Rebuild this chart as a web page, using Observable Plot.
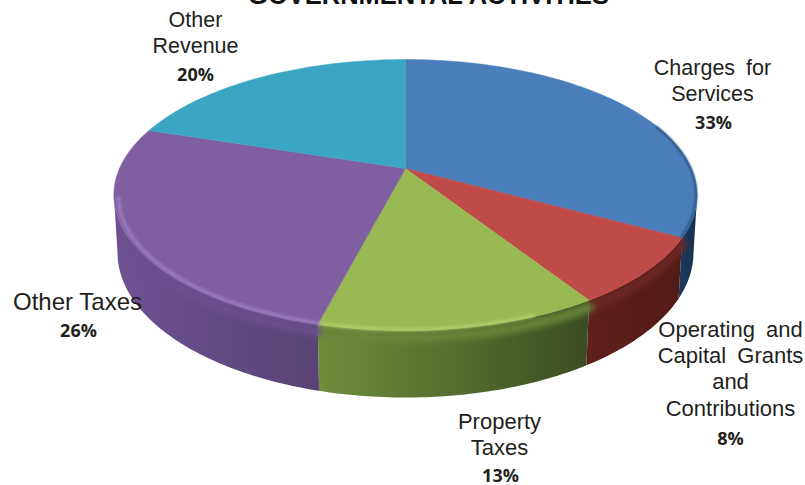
<!DOCTYPE html>
<html>
<head>
<meta charset="utf-8">
<script src="https://cdn.jsdelivr.net/npm/d3@7"></script>
<script src="https://cdn.jsdelivr.net/npm/@observablehq/plot@0.6"></script>
<style>
  html, body { margin: 0; padding: 0; background: #fff; }
  svg { display: block; }
</style>
</head>
<body>
<div id="chart"></div>
<script>
// Revenue shares, clockwise from twelve o'clock
const categories = ["Charges for Services", "Operating and Capital Grants and Contributions", "Property Taxes", "Other Taxes", "Other Revenue"];
const shares = [33, 8, 13, 26, 20];
const title = "GOVERNMENTAL ACTIVITIES";
const labelLines = [["Charges for", "Services"], ["Operating and", "Capital Grants", "and", "Contributions"], ["Property", "Taxes"], ["Other Taxes"], ["Other", "Revenue"]];

// Slice colours
const topColors = ["#4a7ebb", "#be4b48", "#98b954", "#7f5f9f", "#3ba6c4"];
const wallLeft = ["#1a3a5f", "#5f201d", "#6f8e3b", "#6d5293", "#2a7f95"];
const wallRight = ["#17324f", "#521b18", "#3b4c22", "#584374", "#2a7f95"];
const softColors = ["#2a4f7d", "#6e2724", "#6a8739", "#6a508e", "#3ba6c4"];
const glowColors = ["#3f6a9c", "#8f3a36", "#b5d06f", "#9f82c6", "#3ba6c4"];

// Tilted disc: a circle of radius 1 seen in perspective, with a thin extruded edge
const width = 805, height = 485;
const cx = 405, cy = 168, unitX = 286, unitY = 130.3;
const tilt = 0.1956, depth = 0.43, footScale = 0.988;
const project = (angle, r = 1, drop = 0) => {
  const u = r * Math.sin(angle), v = -r * Math.cos(angle), den = 1 - tilt * v;
  return {x: u / den, y: (v + drop) / den};
};
const rad = (deg) => deg * Math.PI / 180;

// Angles where the projected rim is widest; the wall's outline runs between them
const widest = Math.acos(-tilt) * 180 / Math.PI;
const wallFrom = widest, wallTo = 360 - widest;

const total = d3.sum(shares);
const bounds = d3.cumsum([0, ...shares]).map((s) => s / total * 360);
const degrees = (a, b, step = 1) => {
  const out = [];
  for (let d = a; d < b; d += step) out.push(d);
  out.push(b);
  return out;
};

// Top faces
const faces = categories.flatMap((name, i) => [
  {name, i, x: 0, y: 0},
  ...degrees(bounds[i], bounds[i + 1]).map((d) => ({name, i, ...project(rad(d))})),
  {name, i, x: 0, y: 0}
]);

// One wall outline per slice that reaches the front of the disc
const wall = (i) => {
  const ds = degrees(Math.max(bounds[i], wallFrom), Math.min(bounds[i + 1], wallTo));
  return [
    ...ds.map((d) => project(rad(d))),
    ...ds.slice().reverse().map((d) => project(rad(d), footScale, depth))
  ];
};
const wallSlices = d3.range(categories.length).filter((i) => bounds[i] < wallTo && bounds[i + 1] > wallFrom);

// Bands that follow the rim between two angles
const rimBand = (r, drop, from, to) => categories.flatMap((name, i) => {
  const a = Math.max(bounds[i], from), b = Math.min(bounds[i + 1], to);
  if (a >= b) return [];
  return degrees(a, b).map((d) => ({i, ...project(rad(d), r, drop)}));
});
const softBand = rimBand(1, 0.045, bounds[1], 240);
const glowBand = rimBand(0.985, 0.012, 158, 258);
const darkEdge = rimBand(0.996, 0, 70, bounds[1]);

// Horizontal shading for the walls, referenced by id from each wall's fill
const wallGradients = () => {
  const defs = d3.create("svg:defs");
  wallSlices.forEach((i) => {
    const g = defs.append("linearGradient").attr("id", `wall${i}`);
    g.append("stop").attr("offset", "0%").attr("stop-color", wallLeft[i]);
    g.append("stop").attr("offset", "100%").attr("stop-color", wallRight[i]);
  });
  return defs.node();
};

// Text is placed in pixels from the frame's top-left corner, on its baseline
const sans = "Liberation Sans, Arial, sans-serif";
const caption = (text, px, py, fontSize = 21.5) => Plot.text([text], {
  text: (d) => d, frameAnchor: "top-left", dx: px, dy: py, textAnchor: "middle", lineAnchor: "bottom",
  fontFamily: sans, fontSize, fill: "#231f20"
});
const percent = (i, px, py) => Plot.text([`${shares[i]}%`], {
  text: (d) => d, frameAnchor: "top-left", dx: px, dy: py, textAnchor: "middle", lineAnchor: "bottom",
  fontFamily: "Open Sans, sans-serif", fontWeight: 700, fontSize: 18, fill: "#231f20"
});

const plot = Plot.plot({
  width, height, margin: 0,
  style: {background: "#fff"},
  x: {domain: [-cx / unitX, (width - cx) / unitX], range: [0, width], axis: null},
  y: {domain: [-cy / unitY, (height - cy) / unitY], range: [0, height], axis: null},
  marks: [
    wallGradients,
    ...wallSlices.map((i) => Plot.line(wall(i), {x: "x", y: "y", fill: `url(#wall${i})`, stroke: "none"})),
    Plot.line(softBand, {x: "x", y: "y", z: "i", stroke: (d) => softColors[d.i], strokeWidth: 9, imageFilter: "blur(3px)"}),
    Plot.line(faces, {x: "x", y: "y", z: "name", fill: (d) => topColors[d.i], stroke: (d) => topColors[d.i], strokeWidth: 0.5}),
    Plot.line(glowBand, {x: "x", y: "y", z: "i", stroke: (d) => glowColors[d.i], strokeWidth: 3, imageFilter: "blur(1.6px)"}),
    Plot.line(darkEdge, {x: "x", y: "y", stroke: softColors[0], strokeWidth: 2, imageFilter: "blur(0.8px)"}),

    Plot.text([title], {
      text: (d) => d, frameAnchor: "top-left", dx: 428, dy: 3, textAnchor: "middle", lineAnchor: "bottom",
      fontFamily: sans, fontWeight: 700, fontSize: 25.5, fill: "#111"
    }),

    caption(labelLines[4][0], 195, 26), caption(labelLines[4][1], 195, 52), percent(4, 195, 80),
    caption(labelLines[0][0], 712, 74), caption(labelLines[0][1], 712, 100), percent(0, 713, 128),
    caption(labelLines[3][0], 77, 309, 24), percent(3, 78, 336),
    caption(labelLines[1][0], 730, 336, 22), caption(labelLines[1][1], 730, 362, 22),
    caption(labelLines[1][2], 730, 388, 22), caption(labelLines[1][3], 730, 415, 22), percent(1, 730, 444),
    caption(labelLines[2][0], 499, 428, 22), caption(labelLines[2][1], 499, 454, 22), percent(2, 500, 481)
  ]
});

// The two-word labels are set with wide justified gaps
const wideGaps = new Set(["Charges for", "Operating and", "Capital Grants"]);
plot.querySelectorAll("text").forEach((t) => {
  if (wideGaps.has(t.textContent)) t.style.wordSpacing = "5px";
});

document.getElementById("chart").append(plot);
</script>
</body>
</html>
